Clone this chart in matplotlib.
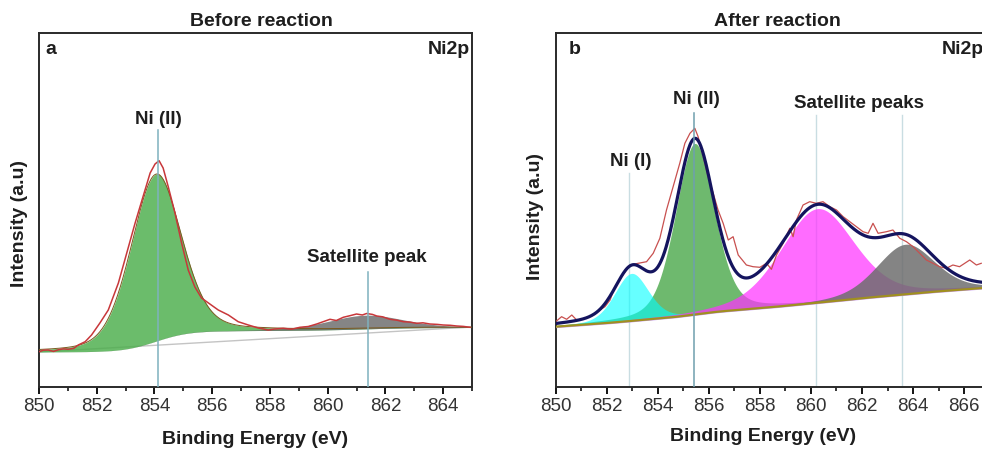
import numpy as np
import matplotlib.pyplot as plt
from matplotlib.ticker import MultipleLocator

plt.rcParams['font.family'] = ['Liberation Sans', 'DejaVu Sans']

# ---- dados (a): antes da reação ----
e_a = [850.0, 850.15, 850.32, 850.5, 850.67, 850.85, 851.0, 851.2, 851.36, 851.6,
       851.82, 852.11, 852.4, 852.75, 853.04, 853.33, 853.6, 853.85, 854.02, 854.16,
       854.3, 854.48, 854.71, 854.94, 855.17, 855.4, 855.63, 855.87, 856.21, 856.56,
       856.9, 857.25, 857.6, 857.94, 858.17, 858.46, 858.75, 859.04, 859.33, 859.62,
       860.08, 860.3, 860.54, 860.8, 861.0, 861.2, 861.35, 861.55, 861.7, 861.9,
       862.16, 862.4, 862.62, 862.85, 863.08, 863.3, 863.54, 863.8, 864.0, 864.25,
       864.47, 864.7, 864.93]
i_a = [35.3, 36.8, 37.0, 35.6, 37.2, 38.2, 37.7, 38.6, 42.0, 45.3,
       52.0, 64.0, 77.0, 104.0, 134.0, 164.0, 190.0, 214.0, 223.0, 226.3,
       219.0, 200.0, 174.0, 144.0, 117.0, 100.0, 89.0, 84.0, 77.0, 72.0,
       65.3, 62.0, 59.0, 57.0, 58.0, 58.7, 57.8, 59.7, 60.5, 63.0,
       67.7, 66.5, 69.7, 71.5, 73.0, 72.0, 73.5, 72.6, 71.0, 70.2,
       67.7, 66.8, 65.3, 64.9, 63.7, 64.2, 63.0, 62.6, 62.0, 61.7,
       61.0, 60.6, 59.7]

# componentes do ajuste (a): centro, FWHM, altura
centros_a = [854.05, 861.3]
fwhm_a = [2.05, 3.1]
alturas_a = [167.0, 13.7]
cores_a = ['#4aad4a', '#6a6a6a']
# fundo Shirley (inicio, fim) e linha cinza reta
shirley_a = [35.0, 59.5]
linha_cinza_a = [35.0, 60.0]

# ---- dados (b): depois da reação ----
e_b = [850.0, 850.23, 850.43, 850.63, 850.82, 851.02, 851.28, 851.54, 851.73, 851.93,
       852.13, 852.32, 852.58, 852.91, 853.23, 853.56, 853.82, 854.08, 854.34, 854.6,
       854.86, 855.06, 855.26, 855.45, 855.58, 855.78, 855.97, 856.17, 856.36, 856.56,
       856.76, 856.95, 857.15, 857.47, 857.73, 858.0, 858.26, 858.45, 858.65, 858.91,
       859.17, 859.3, 859.43, 859.69, 859.95, 860.21, 860.47, 860.74, 861.0, 861.26,
       861.52, 861.78, 862.04, 862.24, 862.43, 862.63, 862.96, 863.21, 863.48, 863.74,
       864.0, 864.26, 864.52, 864.78, 865.04, 865.3, 865.56, 865.82, 866.22, 866.48,
       866.67]
i_b = [65.3, 70.3, 67.7, 72.0, 67.0, 67.7, 69.7, 73.0, 77.0, 80.3,
       87.0, 100.3, 110.3, 122.0, 123.7, 125.3, 133.7, 148.7, 177.0, 200.3,
       223.7, 243.7, 253.7, 258.7, 250.3, 230.3, 210.3, 193.7, 177.0, 163.7,
       147.0, 150.3, 132.0, 122.0, 120.3, 119.7, 123.7, 117.7, 132.0, 143.7,
       158.7, 150.3, 167.0, 182.0, 185.3, 183.7, 185.3, 180.3, 177.0, 170.3,
       165.3, 160.3, 155.3, 153.7, 163.7, 153.7, 155.3, 157.0, 148.7, 145.3,
       140.3, 133.7, 127.0, 123.7, 120.3, 118.7, 122.0, 120.3, 127.0, 122.0,
       123.7]

centros_b = [852.97, 855.45, 860.25, 863.7]
fwhm_b = [1.57, 1.8, 3.4, 2.7]
alturas_b = [47.5, 171.0, 94.0, 50.0]
cores_b = ['#00ffff', '#4aa84a', '#ff33ff', '#6e6e6e']
alfas_b = [0.6, 0.8, 0.72, 0.85]
ordem_b = [1, 0, 2, 3]  # ordem de desenho
# fundo: inicio, inclinacao, degrau Shirley
fundo_b = [60.3, 1.79, 8.7]


def pico(x, c, w, h, m=0.3):
    # pseudo-Voigt (Gauss-Lorentz)
    g = np.exp(-4 * np.log(2) * (x - c) ** 2 / w ** 2)
    l = 1.0 / (1 + 4 * (x - c) ** 2 / w ** 2)
    return h * ((1 - m) * g + m * l)


def degrau(x, picos):
    soma = np.sum(picos, axis=0)
    acum = np.cumsum(soma)
    return acum / acum[-1]


fig = plt.figure(figsize=(9.82, 4.49), dpi=100)
ax1 = fig.add_axes([39 / 982, 62 / 449, 433 / 982, 354 / 449])
ax2 = fig.add_axes([555.7 / 982, 62 / 449, 426.3 / 982, 354 / 449])

cor_texto = '#1e1e1e'

# ---------- painel a ----------
x = np.linspace(850, 865, 800)
picos_a = [pico(x, c, w, h, 0.25) for c, w, h in zip(centros_a, fwhm_a, alturas_a)]
fundo = shirley_a[0] + (shirley_a[1] - shirley_a[0]) * degrau(x, picos_a)

ax1.plot([850, 865], linha_cinza_a, color='#c4c4c4', lw=1.0, zorder=1)
for p, cor in zip(picos_a, cores_a):
    ax1.fill_between(x, fundo, fundo + p, color=cor, alpha=0.82, lw=0, zorder=2)
ax1.plot(x, fundo + picos_a[0], color='#7a5a20', lw=0.7, zorder=3)
ax1.plot(e_a, i_a, color='#c8373a', lw=1.1, zorder=4)

ax1.plot([854.11, 854.11], [0, 257], color='#7fb2be', lw=1.1, zorder=5)
ax1.plot([861.41, 861.41], [0, 115], color='#7fb2be', lw=1.1, zorder=5)
ax1.text(854.15, 267, 'Ni (II)', ha='center', va='center', fontsize=13.5, fontweight='bold', color=cor_texto)
ax1.text(861.35, 129, 'Satellite peak', ha='center', va='center', fontsize=13.5, fontweight='bold', color=cor_texto)
ax1.text(0.015, 0.953, 'a', transform=ax1.transAxes, ha='left', va='center', fontsize=14, fontweight='bold', color=cor_texto)
ax1.text(0.995, 0.953, 'Ni2p', transform=ax1.transAxes, ha='right', va='center', fontsize=14, fontweight='bold', color=cor_texto)

ax1.set_xlim(850, 865)
ax1.set_ylim(0, 354)
ax1.set_title('Before reaction', fontsize=14, fontweight='bold', color=cor_texto, pad=5, x=0.514)

# ---------- painel b ----------
x = np.linspace(850, 866.7, 800)
picos_b = [pico(x, c, w, h, 0.3) for c, w, h in zip(centros_b, fwhm_b, alturas_b)]
fundo = fundo_b[0] + fundo_b[1] * (x - 850) + fundo_b[2] * degrau(x, picos_b)

for k in ordem_b:
    ax2.fill_between(x, fundo, fundo + picos_b[k], color=cores_b[k], alpha=alfas_b[k], lw=0, zorder=2)
ax2.plot(x, fundo - 0.8, color='#c79af0', lw=1.0, zorder=3)
ax2.plot(x, fundo, color='#a09020', lw=1.6, zorder=3)
ax2.plot(e_b, i_b, color='#c8504f', lw=0.9, zorder=4)
ax2.plot(x, fundo + np.sum(picos_b, axis=0), color='#14145e', lw=2.3, zorder=5)

ax2.plot([852.87, 852.87], [0, 214], color='#c9dde2', lw=1.0, zorder=1)
ax2.plot([855.41, 855.41], [0, 274], color='#6f9fae', lw=1.1, zorder=6)
ax2.plot([860.19, 860.19], [0, 272], color='#c9dde2', lw=1.0, zorder=1)
ax2.plot([863.58, 863.58], [0, 272], color='#c9dde2', lw=1.0, zorder=1)
ax2.text(852.95, 225, 'Ni (I)', ha='center', va='center', fontsize=13.5, fontweight='bold', color=cor_texto)
ax2.text(855.5, 287, 'Ni (II)', ha='center', va='center', fontsize=13.5, fontweight='bold', color=cor_texto)
ax2.text(861.9, 284, 'Satellite peaks', ha='center', va='center', fontsize=13.5, fontweight='bold', color=cor_texto)
ax2.text(0.03, 0.953, 'b', transform=ax2.transAxes, ha='left', va='center', fontsize=14, fontweight='bold', color=cor_texto)
# no original o rotulo sai cortado pela borda direita
ax2.text(865.13, 337, 'Ni2p', ha='left', va='center', fontsize=14, fontweight='bold', color=cor_texto)

ax2.set_xlim(850, 866.7)
ax2.set_ylim(0, 354)
ax2.spines['right'].set_visible(False)
ax2.set_title('After reaction', fontsize=14, fontweight='bold', color=cor_texto, pad=5, x=0.521)

# ---------- eixos ----------
for ax, xl, xy, yl in [(ax1, 0.5, -0.123, 0.463), (ax2, 0.487, -0.116, 0.481)]:
    for s in ax.spines.values():
        s.set_linewidth(1.4)
        s.set_color('#2a2a2a')
    ax.xaxis.set_major_locator(MultipleLocator(2))
    ax.xaxis.set_minor_locator(MultipleLocator(1))
    ax.tick_params(axis='x', which='major', direction='out', length=5, width=1.3, labelsize=13.5,
                   labelcolor='#333333', pad=3, top=False)
    ax.tick_params(axis='x', which='minor', direction='out', length=3, width=1.1, top=False)
    ax.set_yticks([])
    ax.set_xlabel('Binding Energy (eV)', fontsize=14, fontweight='bold', color=cor_texto)
    ax.set_ylabel('Intensity (a.u)', fontsize=14, fontweight='bold', color=cor_texto)
    ax.xaxis.set_label_coords(xl, xy)
    ax.yaxis.set_label_coords(-0.025 if ax is ax1 else -0.028, yl)

fig.savefig('out.png', dpi=100)
